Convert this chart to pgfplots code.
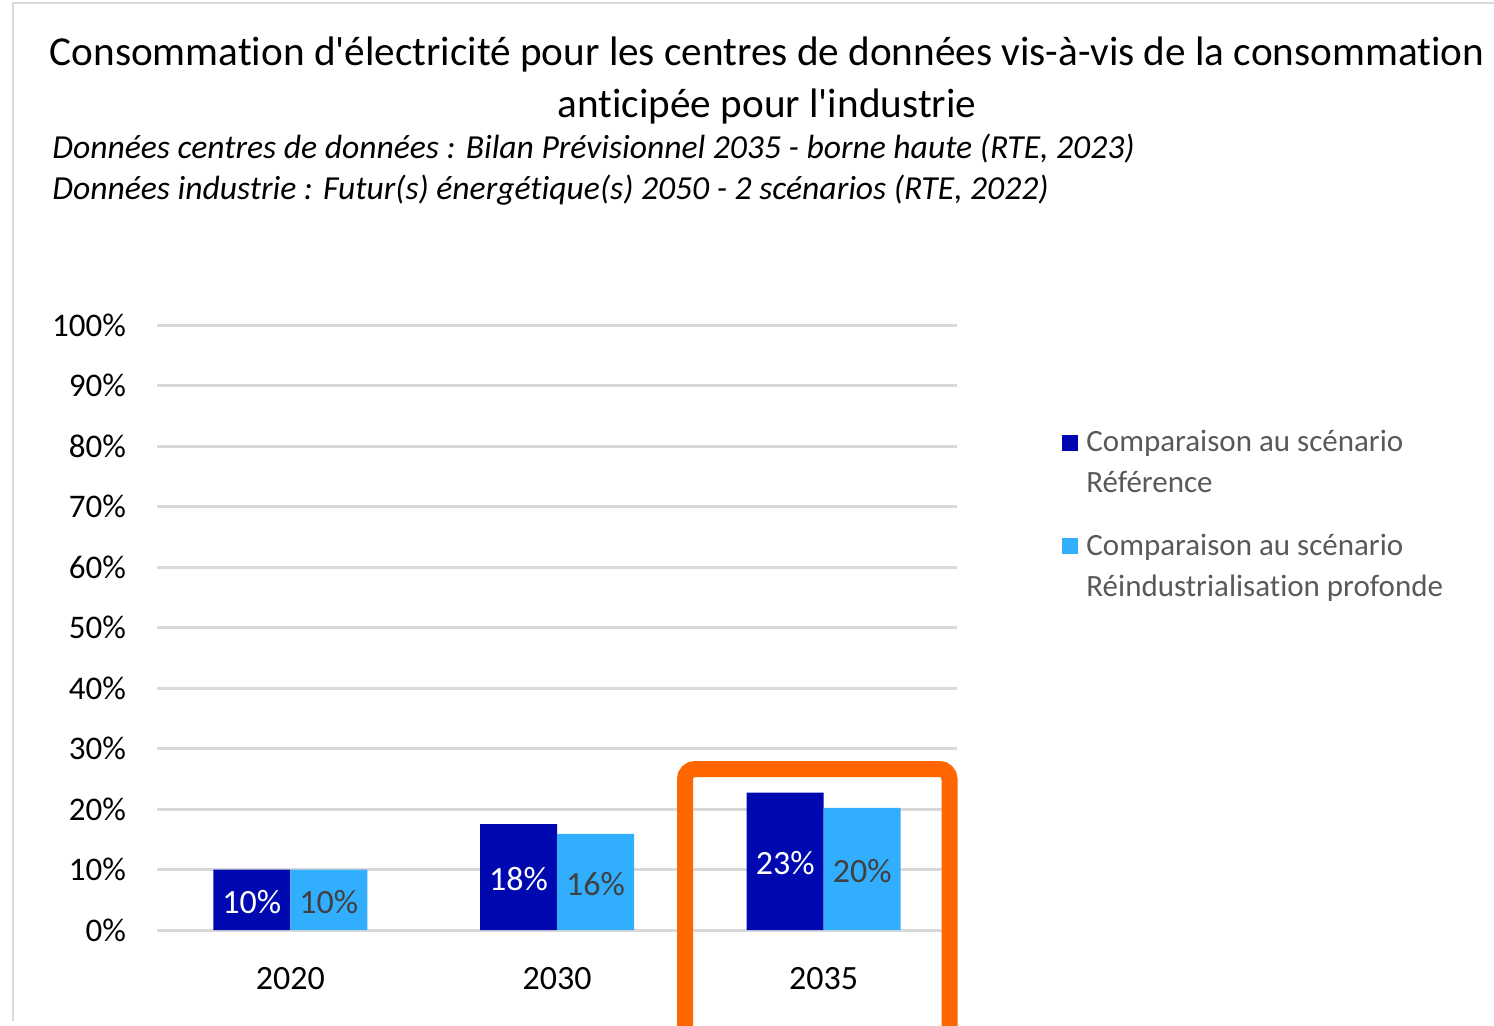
\documentclass[border=0pt]{standalone}
\usepackage{fontspec}
\setmainfont{Carlito}[Ligatures={NoCommon,TeXOff}]
\usepackage{pgfplots}
\pgfplotsset{compat=1.18}
\definecolor{darkbar}{RGB}{0,8,176}
\definecolor{lightbar}{RGB}{50,174,255}
\definecolor{gridgray}{RGB}{217,217,217}
\definecolor{orangebox}{RGB}{255,102,0}
\definecolor{legendgray}{RGB}{89,89,89}
\definecolor{labelgray}{RGB}{64,64,64}
\begin{document}
\begin{tikzpicture}[x=0.5pt,y=-0.5pt]
\path[use as bounding box] (0,0) rectangle (1494,1025);
\draw[gridgray, line width=1.2pt] (13,1021) -- (13,3) -- (1520,3);
\node[font=\fontsize{20.6}{26}\selectfont, align=center] at (767,81) {Consommation d'électricité pour les centres de données vis-à-vis de la consommation\\anticipée pour l'industrie};
\node[font=\fontsize{16.8}{20.5}\selectfont\itshape, align=left, anchor=west, inner sep=0pt] at (52,170) {Données centres de données : Bilan Prévisionnel 2035 - borne haute (RTE, 2023)\\Données industrie : Futur(s) énergétique(s) 2050 - 2 scénarios (RTE, 2022)};
\coordinate (O) at (157,930);
\begin{axis}[
  at={(O)}, anchor=south west, scale only axis,
  width=400pt, height=302.5pt,
  xmin=-0.5, xmax=2.5, ymin=0, ymax=100,
  ybar=0pt, bar width=38.5pt,
  axis line style={draw=none}, major tick length=0pt,
  ymajorgrids, major grid style={gridgray, line width=1.5pt},
  xtick={0,1,2}, xticklabels={2020,2030,2035},
  ytick={0,10,...,100},
  yticklabels={0\%,10\%,20\%,30\%,40\%,50\%,60\%,70\%,80\%,90\%,100\%},
  x tick label style={font=\fontsize{17}{20}\selectfont, yshift=-15pt},
  y tick label style={font=\fontsize{16.5}{19}\selectfont, xshift=-12pt},
  nodes near coords, point meta=explicit symbolic,
  visualization depends on={rawy \as \rawy},
  every node near coord/.append style={anchor=center, yshift={-1.5125*\rawy pt-1pt}, font=\fontsize{17}{20}\selectfont},
  legend image code/.code={\fill[#1] (0pt,6pt) rectangle (8pt,14pt);},
  legend style={at={(1.13125,0.833)}, anchor=north west, draw=none, fill=none,
    font=\fontsize{15.5}{20.5}\selectfont, text=legendgray,
    cells={anchor=west, align=left}, row sep=15pt, inner sep=0pt,
    nodes={inner xsep=4pt}},
]
\addlegendimage{fill=darkbar, draw=none}
\addlegendimage{fill=lightbar, draw=none}
\addplot[fill=darkbar, draw=none, forget plot, bar shift=-19.25pt, every node near coord/.append style={text=white}]
  coordinates {(0,10) [10\%] (1,17.5) [18\%] (2,22.7) [23\%]};
\addplot[fill=lightbar, draw=none, forget plot, bar shift=19.25pt, every node near coord/.append style={text=labelgray}]
  coordinates {(0,10) [10\%] (1,15.9) [16\%] (2,20.2) [20\%]};
\legend{Comparaison au scénario\\Référence, Comparaison au scénario\\Réindustrialisation profonde}
\end{axis}
\draw[orangebox, line width=8pt, rounded corners=5pt] (685,1060) -- (685,769) -- (949.5,769) -- (949.5,1060);
\end{tikzpicture}
\end{document}
